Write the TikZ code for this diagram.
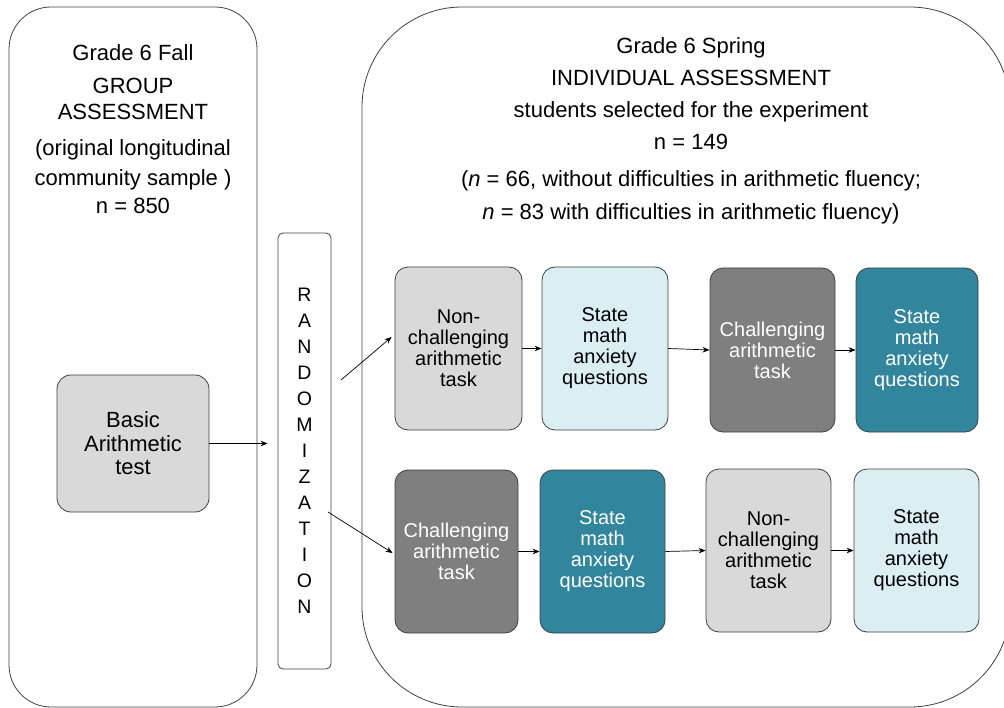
\documentclass[tikz,border=0pt]{standalone}
\usepackage{fontspec}
\setmainfont{Liberation Sans}
\usetikzlibrary{arrows.meta}

\definecolor{edge}{HTML}{404040}
\definecolor{easygray}{HTML}{D9D9D9}
\definecolor{hardgray}{HTML}{7F7F7F}
\definecolor{paleblue}{HTML}{DAEEF3}
\definecolor{anxteal}{HTML}{31859C}

\begin{document}
\begin{tikzpicture}[x=1pt,y=-1pt,
  panel/.style={draw=edge, line width=0.8pt, rectangle, inner sep=0pt},
  titletext/.style={align=center, inner sep=0pt},
  taskbox/.style={draw=edge, line width=0.8pt, rectangle, rounded corners=13pt,
    minimum width=125pt, minimum height=163pt, inner sep=0pt, align=center,
    font=\fontsize{20}{21}\selectfont},
  easy/.style={taskbox, fill=easygray},
  hard/.style={taskbox, fill=hardgray, text=white},
  calm/.style={taskbox, fill=paleblue},
  anx/.style={taskbox, fill=anxteal, text=white},
  flow/.style={-{Stealth[length=7pt,width=5.5pt]}, line width=0.7pt, black},
]
\useasboundingbox (0,0) rectangle (1004,708);
\clip (0,0) rectangle (1004,708);

% the two assessment panels
\node[panel, rounded corners=42pt, minimum width=248pt, minimum height=700pt] (fall) at (133,357) {};
\node[panel, rounded corners=100pt, minimum width=648pt, minimum height=700pt] (spring) at (686,357) {};

\node[titletext, anchor=north, font=\fontsize{22}{26}\selectfont] (falltitle) at (133,44)
  {Grade 6 Fall\\[7pt] GROUP\\ ASSESSMENT\\[10pt] (original longitudinal\\[4pt] community sample )\\[2pt] n = 850};

\node[titletext, anchor=north, font=\fontsize{22}{32}\selectfont] (springtitle) at (691,37)
  {Grade 6 Spring\\ INDIVIDUAL ASSESSMENT\\ students selected for the experiment\\ n = 149\\[5pt]
   (\textit{n} = 66, without difficulties in arithmetic fluency;\\[1pt]
   \textit{n} = 83 with difficulties in arithmetic fluency)};

% group test and randomization
\node[easy, minimum width=152pt, minimum height=137pt, rounded corners=14pt,
  font=\fontsize{22}{23.5}\selectfont] (basic) at (133,443.5) {Basic\\ Arithmetic\\ test};

\node[panel, rounded corners=5pt, minimum width=53pt, minimum height=436pt,
  align=center, font=\fontsize{19.5}{26}\selectfont] (rand) at (304.5,451)
  {R\\ A\\ N\\ D\\ O\\ M\\ I\\ Z\\ A\\ T\\ I\\ O\\ N};

% first order: non-challenging task first
\node[easy, minimum width=127pt] (t1) at (458.5,348.5) {Non-\\ challenging\\ arithmetic\\ task};
\node[calm, minimum width=126pt] (q1) at (605,348.5) {State\\ math\\ anxiety\\ questions};
\node[hard, minimum height=164pt] (t2) at (772.5,350) {Challenging\\ arithmetic\\ task};
\node[anx, minimum width=122pt, minimum height=164pt] (q2) at (917,350) {State\\ math\\ anxiety\\ questions};

% second order: challenging task first
\node[hard, minimum width=123pt] (t3) at (456.5,551.5) {Challenging\\ arithmetic\\ task};
\node[anx] (q3) at (602.5,551.5) {State\\ math\\ anxiety\\ questions};
\node[easy] (t4) at (768.5,550.5) {Non-\\ challenging\\ arithmetic\\ task};
\node[calm] (q4) at (916.5,550.5) {State\\ math\\ anxiety\\ questions};

% connectors
\coordinate (s1) at (341,380);
\coordinate (s2) at (328,512);
\draw[flow, shorten >=10pt] (basic.east) -- (basic.east -| rand.west);
\draw[flow] (s1) -- ([xshift=-3pt,yshift=11.5pt]t1.west);
\draw[flow] (s2) -- ([xshift=-2pt,yshift=-1.5pt]t3.west);
\draw[flow] (t1.east) -- (q1.west);
\draw[flow] (q1.east) -- (t2.west);
\draw[flow] (t2.east) -- (q2.west);
\draw[flow] (t3.east) -- (q3.west);
\draw[flow] (q3.east) -- (t4.west);
\draw[flow] (t4.east) -- (q4.west);
\end{tikzpicture}
\end{document}
